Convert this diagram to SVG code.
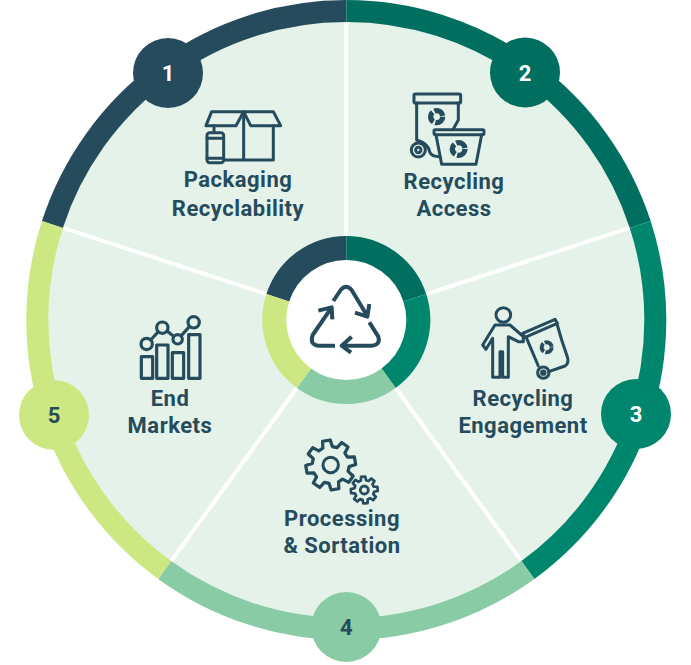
<svg xmlns="http://www.w3.org/2000/svg" width="691" height="665" viewBox="0 0 691 665">
<style>
.seg{fill:none;stroke-width:22}
.hub{fill:none;stroke-width:24}
.div{stroke:#fff;stroke-width:4;fill:none}
.ico{fill:none;stroke:#254B5C;stroke-linejoin:round;stroke-linecap:round}
.mini{stroke-linecap:butt}
.lbl{font-family:Roboto,"Liberation Sans",sans-serif;font-weight:700;font-size:22px;fill:#254B5C;text-anchor:middle;letter-spacing:.5px}
.num{font-family:Roboto,"Liberation Sans",sans-serif;font-weight:700;font-size:22px;text-anchor:middle}
</style>
<defs>
<path id="rec" d="M-35-57L-13-90Q3-110 20-90L67-12M73-48L67-10L30-22M73 7L100 50Q107 75 80 77H-10M20 50L-10 77L18 98M-30 77H-80Q-107 75-97 45L-40-38M-80-28L-40-38L-38-2"/>
<path id="gear" d="M-19.200-71.500L-15.600-98.800L15.600-98.800L19.200-71.500L37-64.100L58.800-80.900L80.900-58.800L64.100-37L71.500-19.200L98.800-15.600L98.800 15.600L71.500 19.200L64.100 37L80.900 58.800L58.800 80.900L37 64.100L19.200 71.500L15.600 98.800L-15.600 98.800L-19.200 71.500L-37 64.100L-58.800 80.900L-80.900 58.800L-64.100 37L-71.500 19.200L-98.800 15.600L-98.800-15.600L-71.500-19.200L-64.100-37L-80.900-58.800L-58.800-80.900L-37-64.100Z"/>
</defs>
<circle id="disc" cx="346.300" cy="320" r="300" fill="#E4F2EA"/>
<g id="connectors">
<path class="div" d="M346.300 320V22"/>
<path class="div" d="M346.300 320L629.700 227.900"/>
<path class="div" d="M346.300 320L521.500 561.100"/>
<path class="div" d="M346.300 320L171.100 561.100"/>
<path class="div" d="M346.300 320L62.900 227.900"/>
</g>
<g id="hub">
<circle cx="346.300" cy="320" r="62" fill="#fff"/>
<path class="hub" stroke="#254B5C" d="M277.800 297.800A72 72 0 0 1 346.300 248"/>
<path class="hub" stroke="#006F60" d="M346.300 248A72 72 0 0 1 414.800 297.800"/>
<path class="hub" stroke="#00866C" d="M414.800 297.800A72 72 0 0 1 388.600 378.200"/>
<path class="hub" stroke="#88CBA4" d="M388.600 378.200A72 72 0 0 1 304 378.200"/>
<path class="hub" stroke="#CDE882" d="M304 378.200A72 72 0 0 1 277.800 297.800"/>
<use href="#rec" class="ico mini" stroke-width="12" transform="translate(345 320) scale(.3333)"/>
</g>
<g id="node-1">
<path class="seg" stroke="#254B5C" d="M52.400 224.500A309 309 0 0 1 346.300 11"/>
<circle cx="168" cy="73" r="35" fill="#254B5C"/>
<text class="num" x="168" y="81" fill="#fff">1</text>
<g class="ico" stroke-width="9" transform="translate(130 60) scale(.3333)">
<path d="M245 155H430L452 197H362L341 155L318 197H228Z"/>
<path d="M252 197V215M430 197V300H285M341 158V300"/>
<rect x="231" y="218" width="50" height="90" rx="8"/>
<path d="M231 235H281M231 295H281"/>
</g>
<text class="lbl" x="238" y="187">Packaging</text>
<text class="lbl" x="238" y="216">Recyclability</text>
</g>
<g id="node-2">
<path class="seg" stroke="#006F60" d="M346.300 11A309 309 0 0 1 640.200 224.500"/>
<circle cx="525" cy="72.500" r="35" fill="#006F60"/>
<text class="num" x="525" y="80.500" fill="#fff">2</text>
<g class="ico" stroke-width="9" transform="translate(350 60) scale(.3333)">
<rect x="192" y="102" width="140" height="27" rx="4"/>
<path d="M200 129V240Q235 250 240 278Q245 290 270 290M325 129V180L310 207"/>
<circle cx="205" cy="270" r="21"/><circle cx="205" cy="270" r="8"/>
<rect x="252" y="209" width="150" height="15" rx="4"/>
<path d="M258 224L275 313H378L395 224"/>
<circle class="mini" cx="260" cy="170" r="18" stroke-width="16" stroke-dasharray="32 5.700"/>
<circle class="mini" cx="326" cy="267" r="19" stroke-width="16" stroke-dasharray="34 5.800"/>
</g>
<text class="lbl" x="454" y="189">Recycling</text>
<text class="lbl" x="454" y="216">Access</text>
</g>
<g id="node-3">
<path class="seg" stroke="#00866C" d="M640.200 224.500A309 309 0 0 1 527.900 570"/>
<circle cx="636" cy="414" r="35" fill="#00866C"/>
<text class="num" x="636" y="422" fill="#fff">3</text>
<g class="ico" stroke-width="9" transform="translate(450 290) scale(.3333)">
<circle cx="160" cy="75" r="22"/>
<path d="M135 105L98 165L108 178L128 145V262H150V185H158V262H175V140L205 155H220V140L180 105Z"/>
<path d="M218 130L315 88L322 100L225 142Z"/>
<path d="M230 145L265 228M322 105L335 150L352 200Q358 220 345 228L296 245"/>
<circle cx="280" cy="248" r="17"/><circle cx="280" cy="248" r="5"/>
<circle class="mini" cx="290" cy="172" r="15" stroke-width="12" stroke-dasharray="27 4.400"/>
</g>
<text class="lbl" x="523" y="406">Recycling</text>
<text class="lbl" x="523" y="433">Engagement</text>
</g>
<g id="node-4">
<path class="seg" stroke="#88CBA4" d="M527.900 570A309 309 0 0 1 164.700 570"/>
<circle cx="346.300" cy="627" r="35" fill="#88CBA4"/>
<text class="num" x="346.300" y="635" fill="#254B5C">4</text>
<g class="ico">
<use href="#gear" stroke-width="13" transform="translate(330.700 465) rotate(-10) scale(.25)"/>
<circle cx="330.700" cy="465" r="7.700" stroke-width="3"/>
<use href="#gear" stroke-width="20" transform="translate(364.300 490) rotate(-5) scale(.135)"/>
<circle cx="364.300" cy="490" r="4" stroke-width="2.800"/>
</g>
<text class="lbl" x="342" y="526">Processing</text>
<text class="lbl" x="342" y="553">&amp; Sortation</text>
</g>
<g id="node-5">
<path class="seg" stroke="#CDE882" d="M164.700 570A309 309 0 0 1 52.400 224.500"/>
<circle cx="54" cy="415" r="35" fill="#CDE882"/>
<text class="num" x="54" y="423" fill="#254B5C">5</text>
<g class="ico" stroke-width="9.500" transform="translate(120 300) scale(.3333)">
<rect x="64" y="170" width="34" height="65"/>
<rect x="110" y="135" width="34" height="100"/>
<rect x="157" y="158" width="34" height="77"/>
<rect x="206" y="104" width="34" height="131"/>
<circle cx="80" cy="132" r="17"/><circle cx="127" cy="83" r="17"/><circle cx="173" cy="118" r="14"/><circle cx="221" cy="67" r="17"/>
<path d="M92 120L115 95M141 93L161 109M184 107L208 80"/>
</g>
<text class="lbl" x="170" y="406">End</text>
<text class="lbl" x="170" y="433">Markets</text>
</g>
</svg>
